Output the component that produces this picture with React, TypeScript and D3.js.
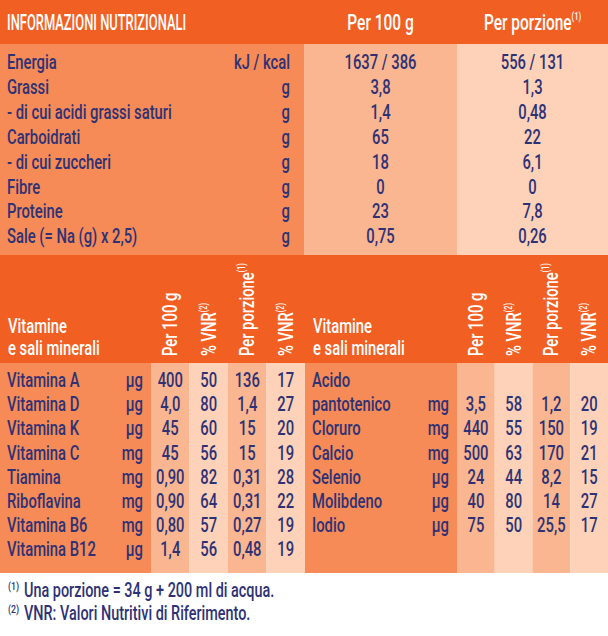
import React from "react";
import * as d3 from "d3";

const W = 608;
const H = 636;

// main nutrition table
const nutrientNames = [
  "Energia",
  "Grassi",
  "- di cui acidi grassi saturi",
  "Carboidrati",
  "- di cui zuccheri",
  "Fibre",
  "Proteine",
  "Sale (= Na (g) x 2,5)",
];
const nutrientUnits = ["kJ / kcal", "g", "g", "g", "g", "g", "g", "g"];
const nutrientPer100 = ["1637 / 386", "3,8", "1,4", "65", "18", "0", "23", "0,75"];
const nutrientPortion = ["556 / 131", "1,3", "0,48", "22", "6,1", "0", "7,8", "0,26"];

// vitamins, left block
const vitLeftNames = ["Vitamina A", "Vitamina D", "Vitamina K", "Vitamina C", "Tiamina", "Riboflavina", "Vitamina B6", "Vitamina B12"];
const vitLeftUnits = ["µg", "µg", "µg", "mg", "mg", "mg", "mg", "µg"];
const vitLeftPer100 = ["400", "4,0", "45", "45", "0,90", "0,90", "0,80", "1,4"];
const vitLeftVnr100 = ["50", "80", "60", "56", "82", "64", "57", "56"];
const vitLeftPortion = ["136", "1,4", "15", "15", "0,31", "0,31", "0,27", "0,48"];
const vitLeftVnrPortion = ["17", "27", "20", "19", "28", "22", "19", "19"];

// vitamins, right block (first row holds only "Acido")
const vitRightNames = ["Acido", "pantotenico", "Cloruro", "Calcio", "Selenio", "Molibdeno", "Iodio"];
const vitRightUnits = ["", "mg", "mg", "mg", "µg", "µg", "µg"];
const vitRightPer100 = ["", "3,5", "440", "500", "24", "40", "75"];
const vitRightVnr100 = ["", "58", "55", "63", "44", "80", "50"];
const vitRightPortion = ["", "1,2", "150", "170", "8,2", "14", "25,5"];
const vitRightVnrPortion = ["", "20", "19", "21", "15", "27", "17"];

const colHeads = ["Per 100 g", "% VNR", "Per porzione", "% VNR"];
const colSup = ["", "(2)", "(1)", "(2)"];

const footnotes = [
  ["(1)", "Una porzione = 34 g + 200 ml di acqua."],
  ["(2)", "VNR: Valori Nutritivi di Riferimento."],
];

const FONT = "Roboto, 'DejaVu Sans', sans-serif";
const NAVY = "#2e3275";
const DARK = "#f15f23";
const MID = "#f68b58";
const LIGHT1 = "#fab690";
const LIGHT2 = "#fdd2b8";

// condensed text: squeeze horizontally to mimic the DIN condensed face
const T = ({ x, y, size = 20, sx = 0.74, anchor = "start", fill = NAVY, rotate = 0, children }) => (
  <text
    transform={`translate(${x},${y}) rotate(${rotate}) scale(${sx},1)`}
    fontSize={size}
    fontWeight={500}
    textAnchor={anchor}
    fill={fill}
  >
    {children}
  </text>
);

const VitBlock = ({ x0, labelEnd, xEnd, names, units, cols }) => {
  const keys = cols.map((_, i) => String(i));
  const x = d3.scaleBand().domain(keys).range([labelEnd, xEnd]);
  const y = d3.scaleLinear().domain([0, 1]).range([387, 411.2]);
  const fills = [LIGHT1, LIGHT2, LIGHT1, LIGHT2];
  return (
    <g>
      <rect x={x0} y={363} width={labelEnd - x0} height={210} fill={MID} />
      {keys.map((k, i) => (
        <rect key={"c" + k} x={x(k)} y={363} width={x.bandwidth()} height={210} fill={fills[i]} />
      ))}
      <T x={x0 + 8} y={333} fill="#fff">Vitamine</T>
      <T x={x0 + 8} y={355} fill="#fff">e sali minerali</T>
      {keys.map((k, i) => (
        <T key={"h" + k} x={x(k) + x.bandwidth() / 2 + 7} y={356} rotate={-90} fill="#fff" size={20.5} sx={0.72}>
          {colHeads[i]}
          {colSup[i] && (
            <tspan fontSize={10} dy={-9}>{colSup[i]}</tspan>
          )}
        </T>
      ))}
      {names.map((n, r) => (
        <g key={"r" + r}>
          <T x={x0 + 7} y={y(r)}>{n}</T>
          <T x={labelEnd - 8} y={y(r)} anchor="end">{units[r]}</T>
          {cols.map((c, i) => (
            <T key={i} x={x(String(i)) + x.bandwidth() / 2} y={y(r)} anchor="middle">
              {c[r]}
            </T>
          ))}
        </g>
      ))}
    </g>
  );
};

const App = () => {
  const colX = d3.scaleOrdinal().domain(["label", "per100", "portion"]).range([0, 304, 457]);
  const rowY = d3.scaleLinear().domain([0, 1]).range([69, 93.9]);
  const midA = (colX("per100") + colX("portion")) / 2;
  const midB = (colX("portion") + W) / 2;

  return (
    <svg
      width={W}
      height={H}
      style={{ position: "absolute", left: 0, top: 0, fontFamily: FONT }}
    >
      <rect x={0} y={0} width={W} height={H} fill="#fff" />
      {/* top header */}
      <rect x={0} y={0} width={W} height={44} fill={DARK} />
      <T x={7} y={29.5} fill="#fff" size={21.5} sx={0.6}>INFORMAZIONI NUTRIZIONALI</T>
      <T x={midA} y={29.5} fill="#fff" size={21.5} sx={0.72} anchor="middle">Per 100 g</T>
      <T x={midB} y={29.5} fill="#fff" size={21.5} sx={0.72} anchor="middle">
        Per porzione
        <tspan fontSize={10.5} dy={-10}>(1)</tspan>
      </T>

      {/* nutrient body */}
      <rect x={colX("label")} y={44} width={colX("per100")} height={211} fill={MID} />
      <rect x={colX("per100")} y={44} width={colX("portion") - colX("per100")} height={211} fill={LIGHT1} />
      <rect x={colX("portion")} y={44} width={W - colX("portion")} height={211} fill={LIGHT2} />
      {nutrientNames.map((n, i) => (
        <g key={n}>
          <T x={7} y={rowY(i)}>{n}</T>
          <T x={290} y={rowY(i)} anchor="end">{nutrientUnits[i]}</T>
          <T x={midA} y={rowY(i)} anchor="middle">{nutrientPer100[i]}</T>
          <T x={midB} y={rowY(i)} anchor="middle">{nutrientPortion[i]}</T>
        </g>
      ))}

      {/* vitamins */}
      <rect x={0} y={255} width={W} height={108} fill={DARK} />
      <VitBlock
        x0={0}
        labelEnd={151}
        xEnd={305}
        names={vitLeftNames}
        units={vitLeftUnits}
        cols={[vitLeftPer100, vitLeftVnr100, vitLeftPortion, vitLeftVnrPortion]}
      />
      <VitBlock
        x0={305}
        labelEnd={457}
        xEnd={W}
        names={vitRightNames}
        units={vitRightUnits}
        cols={[vitRightPer100, vitRightVnr100, vitRightPortion, vitRightVnrPortion]}
      />

      {/* footnotes */}
      {footnotes.map((f, i) => (
        <g key={i}>
          <T x={8} y={590 + i * 23} size={11} sx={0.8}>{f[0]}</T>
          <T x={24} y={597 + i * 23} size={19.5}>{f[1]}</T>
        </g>
      ))}
    </svg>
  );
};

export default App;
